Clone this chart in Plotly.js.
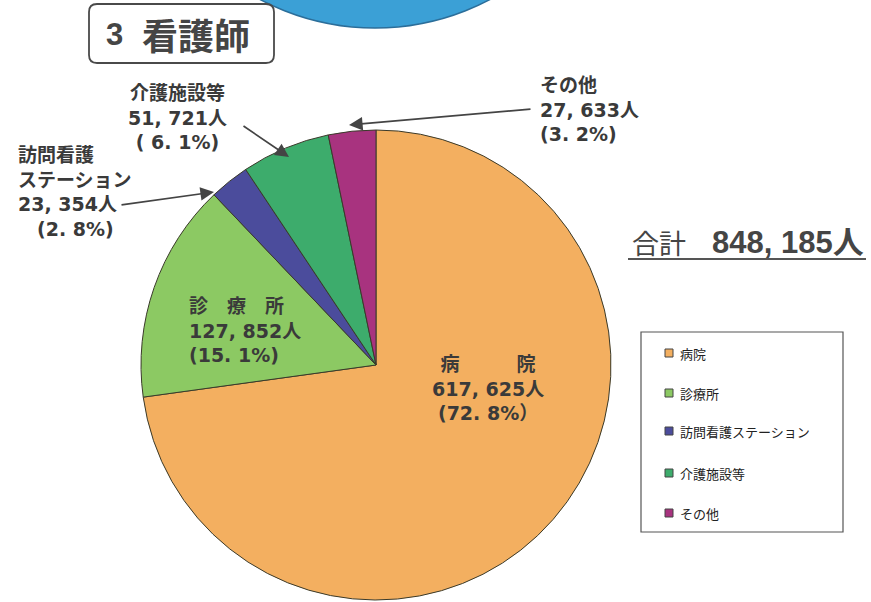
<!DOCTYPE html>
<html>
<head>
<meta charset="utf-8">
<script src="https://cdn.plot.ly/plotly-3.0.1.min.js"></script>
<style>html,body{margin:0;padding:0;background:#fff;}#chart{width:871px;height:602px;}</style>
</head>
<body>
<div id="chart"></div>
<script>
// Data
var categories = ['病院', '診療所', '訪問看護ステーション', '介護施設等', 'その他'];
var values = [617625, 127852, 23354, 51721, 27633];
var percents = ['72. 8%', '15. 1%', '2. 8%', '6. 1%', '3. 2%'];
var valueLabels = ['617, 625人', '127, 852人', '23, 354人', '51, 721人', '27, 633人'];
var totalLabel = '848, 185人';
var sliceColors = ['#F3AF60', '#8CC963', '#4B4C9C', '#3DAC6C', '#A8337F'];

var W = 871, H = 602;
function px(x) { return x / W; }
function py(y) { return 1 - y / H; }

var cx = 376, cy = 365, r = 235;

var FONT = 'DejaVu Sans, Noto Sans CJK JP, sans-serif';
var TXT = '#3a3a3a';

var trace = {
  type: 'pie',
  labels: categories,
  values: values,
  sort: false,
  direction: 'clockwise',
  rotation: 0,
  marker: { colors: sliceColors, line: { color: '#3a3a2a', width: 1 } },
  textinfo: 'none',
  hoverinfo: 'label+value+percent',
  showlegend: false,
  domain: { x: [px(cx - r), px(cx + r)], y: [py(cy + r), py(cy - r)] }
};

var ann = [];
function label(x, y, text, align, size) {
  ann.push({ xref: 'paper', yref: 'paper', x: px(x), y: py(y), text: text, showarrow: false,
    xanchor: align === 'left' ? 'left' : (align === 'right' ? 'right' : 'center'), yanchor: 'middle',
    align: align || 'center', font: { family: FONT, size: size || 19, color: TXT } });
}
function arrow(x1, y1, x2, y2) {
  ann.push({ xref: 'paper', yref: 'paper', x: px(x2), y: py(y2), ax: x1 - x2, ay: y1 - y2,
    axref: 'pixel', ayref: 'pixel', text: '', showarrow: true, arrowhead: 2, arrowsize: 1.6,
    arrowwidth: 1.7, arrowcolor: '#444', standoff: 0 });
}

// Slice labels
label(488, 388, '<b>病　　　院<br>' + valueLabels[0] + '<br>(' + percents[0] + '）</b>', 'center');
label(187, 330, '<b>診　療　所<br>' + valueLabels[1] + '<br>(' + percents[1] + ')</b>', 'left');
label(16, 192, '<b>訪問看護<br>ステーション<br>' + valueLabels[2] + '<br>　(' + percents[2] + ')</b>', 'left');
label(177, 117, '<b>' + categories[3] + '<br>' + valueLabels[3] + '<br>( ' + percents[3] + ')</b>', 'center');
label(538, 110, '<b>' + categories[4] + '<br>' + valueLabels[4] + '<br>(' + percents[4] + ')</b>', 'left');

// Arrows
arrow(120, 205, 214, 192);
arrow(242, 125, 289, 157);
arrow(532, 109, 349, 125);

// Title
ann.push({ xref: 'paper', yref: 'paper', x: px(115), y: py(34), text: '<b>3</b>', showarrow: false,
  xanchor: 'center', yanchor: 'middle', font: { family: 'Liberation Sans, Noto Sans CJK JP, sans-serif', size: 31, color: '#454545' } });
ann.push({ xref: 'paper', yref: 'paper', x: px(140), y: py(34), text: '<b>看護師</b>', showarrow: false,
  xanchor: 'left', yanchor: 'middle', font: { family: 'Noto Sans CJK JP, sans-serif', size: 36, color: '#454545' } });

// Total
ann.push({ xref: 'paper', yref: 'paper', x: px(630), y: py(243), text: '合計', showarrow: false,
  xanchor: 'left', yanchor: 'middle', font: { family: 'Noto Sans CJK JP, sans-serif', size: 27, color: '#454545' } });
ann.push({ xref: 'paper', yref: 'paper', x: px(866), y: py(243), text: '<b>' + totalLabel + '</b>', showarrow: false,
  xanchor: 'right', yanchor: 'middle', font: { family: 'Liberation Sans, Noto Sans CJK JP, sans-serif', size: 31, color: '#454545' } });

function roundRect(x0, y0, x1, y1, rr) {
  return 'M ' + px(x0 + rr) + ',' + py(y0) + ' L ' + px(x1 - rr) + ',' + py(y0) +
    ' Q ' + px(x1) + ',' + py(y0) + ' ' + px(x1) + ',' + py(y0 + rr) +
    ' L ' + px(x1) + ',' + py(y1 - rr) + ' Q ' + px(x1) + ',' + py(y1) + ' ' + px(x1 - rr) + ',' + py(y1) +
    ' L ' + px(x0 + rr) + ',' + py(y1) + ' Q ' + px(x0) + ',' + py(y1) + ' ' + px(x0) + ',' + py(y1 - rr) +
    ' L ' + px(x0) + ',' + py(y0 + rr) + ' Q ' + px(x0) + ',' + py(y0) + ' ' + px(x0 + rr) + ',' + py(y0) + ' Z';
}

var shapes = [
  // partial blue circle from previous chart
  { type: 'circle', xref: 'paper', yref: 'paper', x0: px(129), x1: px(621), y0: py(28), y1: py(-464),
    fillcolor: '#3BA0D6', line: { color: '#2B6E9A', width: 1.5 }, layer: 'below' },
  // title box (rounded)
  { type: 'path', xref: 'paper', yref: 'paper', layer: 'below', path: roundRect(89, 4, 274, 63, 8),
    fillcolor: '#ffffff', line: { color: '#4a4a4a', width: 1.8 } },
  // underline of total
  { type: 'line', xref: 'paper', yref: 'paper', x0: px(628), x1: px(866), y0: py(259), y1: py(259),
    line: { color: '#555', width: 2 } },
  // legend box
  { type: 'rect', xref: 'paper', yref: 'paper', x0: px(641), x1: px(843), y0: py(332), y1: py(532),
    fillcolor: 'rgba(0,0,0,0)', line: { color: '#555', width: 1.2 } }
];

// Legend entries built from the categories / colors
var legY = [353, 393, 431, 473, 513];
for (var i = 0; i < categories.length; i++) {
  shapes.push({ type: 'rect', xref: 'paper', yref: 'paper', x0: px(665), x1: px(673), y0: py(legY[i] + 4), y1: py(legY[i] - 4),
    fillcolor: sliceColors[i], line: { color: '#444', width: 1 } });
  ann.push({ xref: 'paper', yref: 'paper', x: px(678), y: py(legY[i]), text: categories[i], showarrow: false,
    xanchor: 'left', yanchor: 'middle', font: { family: 'Noto Sans CJK JP, sans-serif', size: 13, color: '#222' } });
}

var layout = {
  width: W, height: H,
  margin: { l: 0, r: 0, t: 0, b: 0 },
  paper_bgcolor: '#ffffff',
  showlegend: false,
  annotations: ann,
  shapes: shapes
};

Plotly.newPlot('chart', [trace], layout, { displayModeBar: false, staticPlot: true });
</script>
</body>
</html>
